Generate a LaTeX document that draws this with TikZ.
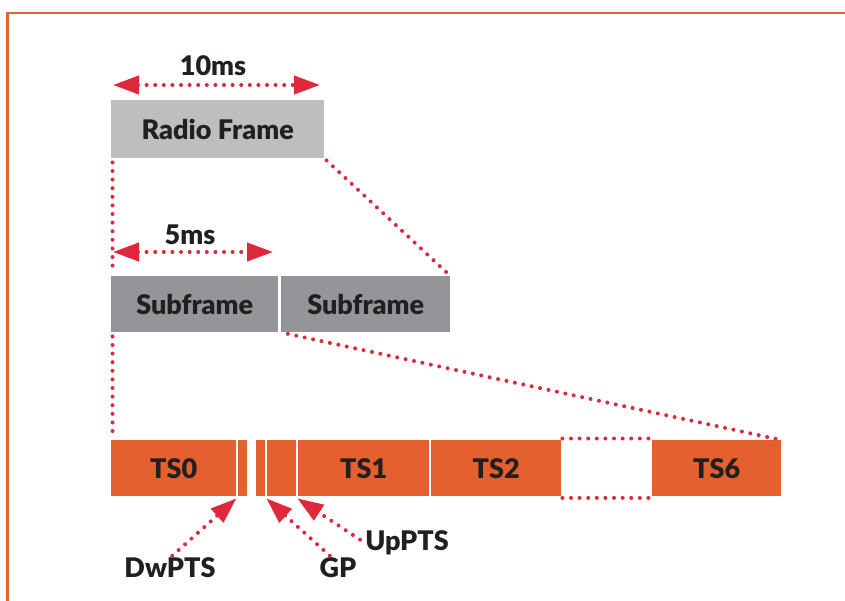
\documentclass[tikz,border=0pt]{standalone}
\usepackage{fontspec}
\setmainfont{Lato}[BoldFont={Lato Black}]
\usetikzlibrary{positioning,arrows.meta}

\definecolor{framegray}{HTML}{BDBEC0}
\definecolor{subgray}{HTML}{939598}
\definecolor{tsorange}{HTML}{E4602E}
\definecolor{dotred}{HTML}{E0283C}
\definecolor{txtdark}{HTML}{231F20}

\begin{document}
\begin{tikzpicture}[x=1pt,y=-1pt,
        every node/.style={font=\bfseries\fontsize{27}{32}\selectfont, text=txtdark, inner sep=0pt},
        radiobox/.style={anchor=north west, fill=framegray, minimum height=58pt},
        subbox/.style={anchor=north west, fill=subgray, minimum height=56pt},
        tsbox/.style={anchor=north west, fill=tsorange, minimum height=56pt},
        dotline/.style={dotred, line width=4pt, line cap=round, dash pattern=on 0pt off 8.6pt},
        dotarrow/.style={dotline, -{Triangle[length=26pt,width=18pt]}},
        dotboth/.style={dotline, {Triangle[length=26pt,width=18pt]}-{Triangle[length=26pt,width=18pt]}}]

        \useasboundingbox (0,0) rectangle (845,601);
        \draw[tsorange, line width=2.5pt] (7.5,601) -- (7.5,13) -- (845,13);

        % frame and subframes
        \node[radiobox, minimum width=213pt] (radio) at (111,100) {Radio Frame};
        \node[subbox, minimum width=167pt] (subA) at (111,276) {Subframe};
        \node[subbox, minimum width=169pt] (subB) at (281,276) {Subframe};

        % time slots
        \node[tsbox, minimum width=125pt] (ts0) at (111,440) {TS0};
        \node[tsbox, minimum width=9pt] (slotA) at (238,440) {};
        \node[tsbox, minimum width=9pt] (slotB) at (256,440) {};
        \node[tsbox, minimum width=29pt] (slotC) at (267,440) {};
        \node[tsbox, minimum width=131pt] (ts1) at (298,440) {TS1};
        \node[tsbox, minimum width=130pt] (ts2) at (431,440) {TS2};
        \node[tsbox, minimum width=129pt] (ts6) at (652,440) {TS6};

        % durations
        \node (tenms) at (213,66) {10ms};
        \coordinate (tenL) at (113,85);
        \coordinate (tenR) at (320,85);
        \draw[dotboth] (tenL) -- (tenR);
        \node (fivems) at (190,235) {5ms};
        \coordinate (fiveL) at (113,252);
        \coordinate (fiveR) at (273,252);
        \draw[dotboth] (fiveL) -- (fiveR);

        % zoom lines
        \draw[dotline, shorten <=4pt, shorten >=4pt] ([xshift=1.5pt]radio.south west) -- ([xshift=1.5pt]subA.north west);
        \draw[dotline, shorten <=3pt, shorten >=4pt] (radio.south east) -- (subB.north east);
        \draw[dotline, shorten <=4pt, shorten >=4pt] ([xshift=1.5pt]subA.south west) -- ([xshift=1.5pt]ts0.north west);
        \draw[dotline, shorten <=7pt, shorten >=6pt] (subB.south west) -- (ts6.north east);
        \draw[dotline, shorten <=1pt] ([yshift=1.5pt]ts2.north east) -- ([yshift=1.5pt]ts6.north west);
        \draw[dotline, shorten <=1pt] ([yshift=-1.5pt]ts2.south east) -- ([yshift=-1.5pt]ts6.south west);

        % special fields
        \node (dwlbl) at (170,568) {DwPTS};
        \node (gplbl) at (338,568) {GP};
        \node (uplbl) at (407,543) {UpPTS};
        \draw[dotarrow, shorten <=3pt] (dwlbl.north) -- ([yshift=-2pt]ts0.south east);
        \draw[dotarrow, shorten <=3pt] ([xshift=-6pt]gplbl.north) -- ([xshift=1pt,yshift=-2pt]slotB.south east);
        \draw[dotarrow, shorten <=6pt] (uplbl.west) -- ([xshift=1pt,yshift=-2pt]slotC.south east);

    \end{tikzpicture}
\end{document}
